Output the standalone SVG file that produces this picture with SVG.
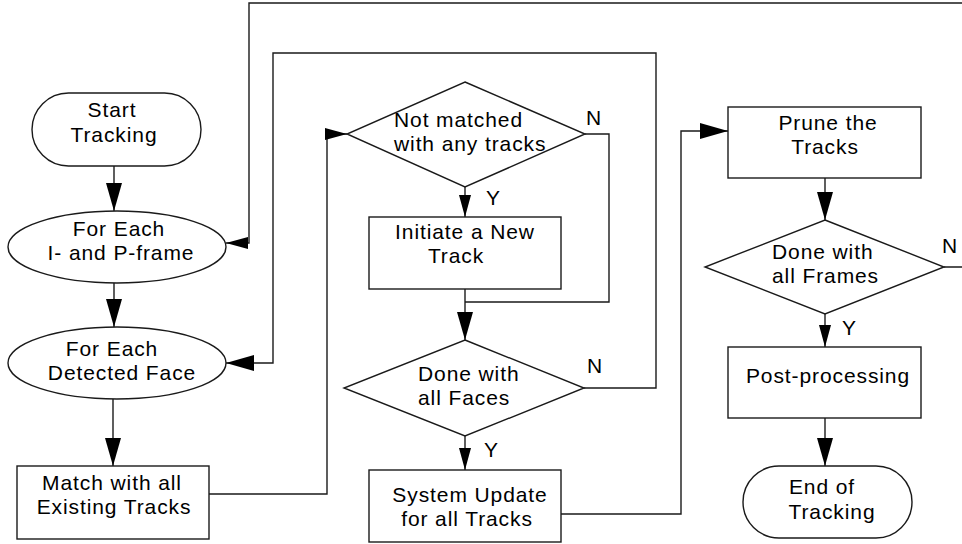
<svg xmlns="http://www.w3.org/2000/svg" width="962" height="544" viewBox="0 0 962 544">
<style>
.s{fill:#fff;stroke:#1a1a1a;stroke-width:1.4}
.c{fill:none;stroke:#1a1a1a;stroke-width:1.4}
text{font-family:"Liberation Sans",Arial,Helvetica,sans-serif;font-size:21px;letter-spacing:0.9px;fill:#000}
.m{text-anchor:middle}
.yn{font-size:21px;letter-spacing:0}
</style>
<defs>
<marker id="big" markerUnits="userSpaceOnUse" markerWidth="29" markerHeight="16" refX="28" refY="8" orient="auto">
<path d="M0,0 L28,8 L0,16 z" fill="#000"/>
</marker>
<marker id="sm" markerUnits="userSpaceOnUse" markerWidth="23" markerHeight="12" refX="22" refY="6" orient="auto">
<path d="M0,0 L22,6 L0,12 z" fill="#000"/>
</marker>
</defs>
<rect width="962" height="544" fill="#fff"/>
<g id="connectors">
<path class="c" d="M114,166 V211" marker-end="url(#big)"/>
<path class="c" d="M114,283 V327" marker-end="url(#big)"/>
<path class="c" d="M113,399 V466" marker-end="url(#big)"/>
<path class="c" d="M209,494 H327 V134 H347" marker-end="url(#sm)"/>
<path class="c" d="M465,187 V217" marker-end="url(#sm)"/>
<path class="c" d="M585,134 H609 V302 H465"/>
<path class="c" d="M465,289 V340" marker-end="url(#big)"/>
<path class="c" d="M584,388 H656 V53 H273 V363 H226" marker-end="url(#big)"/>
<path class="c" d="M465,436 V470" marker-end="url(#sm)"/>
<path class="c" d="M561,514 H681 V131 H728" marker-end="url(#big)"/>
<path class="c" d="M825,178 V220" marker-end="url(#big)"/>
<path class="c" d="M944,267 H970 V3 H249 V243 H226" marker-end="url(#sm)"/>
<path class="c" d="M825,314 V347" marker-end="url(#sm)"/>
<path class="c" d="M825,418 V466" marker-end="url(#big)"/>
<text class="yn" x="486" y="205">Y</text>
<text class="yn" x="586" y="125">N</text>
<text class="yn" x="484" y="457">Y</text>
<text class="yn" x="587" y="373">N</text>
<text class="yn" x="842" y="335">Y</text>
<text class="yn" x="942" y="253">N</text>
</g>
<g id="start">
<rect class="s" x="32" y="93" width="169" height="73" rx="36.5"/>
<text class="m"><tspan x="112" y="117">Start</tspan><tspan x="114" y="142">Tracking</tspan></text>
</g>
<g id="each-frame">
<ellipse class="s" cx="117" cy="247" rx="109" ry="36"/>
<text class="m"><tspan x="119" y="236">For Each</tspan><tspan x="121" y="260">I- and P-frame</tspan></text>
</g>
<g id="each-face">
<ellipse class="s" cx="117" cy="363" rx="109" ry="36"/>
<text class="m"><tspan x="112" y="356">For Each</tspan><tspan x="122" y="380">Detected Face</tspan></text>
</g>
<g id="match">
<rect class="s" x="17" y="466" width="192" height="73"/>
<text class="m"><tspan x="112" y="490">Match with all</tspan><tspan x="114" y="514">Existing Tracks</tspan></text>
</g>
<g id="not-matched">
<polygon class="s" points="465,82 585,134 465,187 347,134"/>
<text><tspan x="394" y="127">Not matched</tspan><tspan x="394" y="151">with any tracks</tspan></text>
</g>
<g id="initiate">
<rect class="s" x="369" y="217" width="192" height="72"/>
<text class="m"><tspan x="465" y="239">Initiate a New</tspan><tspan x="456" y="263">Track</tspan></text>
</g>
<g id="done-faces">
<polygon class="s" points="465,340 584,388 465,436 344,388"/>
<text><tspan x="418" y="381">Done with</tspan><tspan x="418" y="405">all Faces</tspan></text>
</g>
<g id="system-update">
<rect class="s" x="369" y="470" width="192" height="72"/>
<text class="m"><tspan x="470" y="502">System Update</tspan><tspan x="467" y="526">for all Tracks</tspan></text>
</g>
<g id="prune">
<rect class="s" x="728" y="107" width="193" height="71"/>
<text class="m"><tspan x="828" y="130">Prune the</tspan><tspan x="825" y="154">Tracks</tspan></text>
</g>
<g id="done-frames">
<polygon class="s" points="825,220 944,267 825,314 705,267"/>
<text><tspan x="772" y="259">Done with</tspan><tspan x="772" y="283">all Frames</tspan></text>
</g>
<g id="post">
<rect class="s" x="728" y="347" width="193" height="71"/>
<text class="m" x="828" y="383">Post-processing</text>
</g>
<g id="end">
<rect class="s" x="743" y="466" width="169" height="72" rx="36"/>
<text class="m"><tspan x="822" y="494">End of</tspan><tspan x="832" y="519">Tracking</tspan></text>
</g>
</svg>
